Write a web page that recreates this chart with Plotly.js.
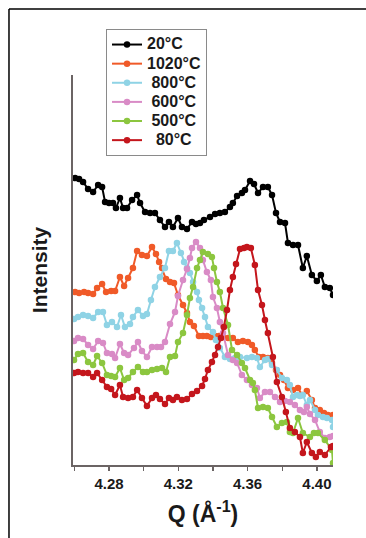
<!DOCTYPE html>
<html>
<head>
<meta charset="utf-8">
<script src="https://cdn.plot.ly/plotly-3.0.1.min.js"></script>
<style>
  html, body { margin: 0; padding: 0; background: #fff; }
  #chart { width: 366px; height: 538px; }
</style>
</head>
<body>
<div id="chart"></div>
<script>
// Tick labels on the Q axis (labelled major ticks, unlabelled minor ticks)
const tickValues = [4.28, 4.32, 4.36, 4.40];
const tickLabels = ['4.28', '4.32', '4.36', '4.40'];
const minorTickValues = [4.26, 4.30, 4.34, 4.38];

// Series names
const seriesNames = ['20°C', '1020°C', '\u00a0800°C', '\u00a0600°C', '\u00a0500°C', '\u00a0\u00a080°C'];

// 20°C
const q20 = [4.2604,4.2627,4.2650,4.2679,4.2708,4.2737,4.2760,4.2777,4.2800,4.2823,4.2840,4.2863,4.2881,4.2904,4.2933,4.2962,4.2979,4.3008,4.3037,4.3065,4.3094,4.3123,4.3146,4.3169,4.3198,4.3221,4.3250,4.3279,4.3302,4.3325,4.3348,4.3383,4.3412,4.3440,4.3469,4.3498,4.3515,4.3539,4.3567,4.3585,4.3614,4.3637,4.3660,4.3689,4.3717,4.3741,4.3764,4.3787,4.3816,4.3833,4.3862,4.3891,4.3919,4.3942,4.3971,4.4000,4.4023,4.4046,4.4075,4.4093];
const i20 = [287,286,283,276,273,280,278,263,262,262,257,267,257,257,265,270,262,253,252,252,245,238,243,238,247,238,236,243,241,242,245,248,251,252,253,258,262,269,272,275,284,281,272,278,278,270,252,243,242,222,220,220,197,209,190,184,190,178,177,170];

// 1020°C
const q1020 = [4.2604,4.2627,4.2656,4.2679,4.2708,4.2731,4.2760,4.2783,4.2812,4.2835,4.2863,4.2887,4.2910,4.2938,4.2962,4.2990,4.3019,4.3048,4.3071,4.3089,4.3106,4.3129,4.3152,4.3175,4.3198,4.3227,4.3250,4.3267,4.3290,4.3319,4.3342,4.3365,4.3388,4.3412,4.3435,4.3458,4.3487,4.3515,4.3544,4.3573,4.3602,4.3625,4.3642,4.3665,4.3689,4.3717,4.3741,4.3764,4.3787,4.3810,4.3833,4.3862,4.3891,4.3914,4.3942,4.3971,4.3989,4.4017,4.4041,4.4064,4.4093];
const i1020 = [173,172,173,172,171,177,181,173,174,174,188,179,187,197,214,210,209,218,211,203,197,186,183,182,170,160,152,143,139,129,129,129,128,129,129,128,127,127,123,124,123,120,115,108,108,107,102,95,90,85,77,75,77,70,74,65,57,55,52,50,50];

// 800°C
const q800 = [4.2598,4.2621,4.2650,4.2679,4.2708,4.2737,4.2765,4.2788,4.2817,4.2846,4.2869,4.2892,4.2921,4.2938,4.2967,4.2996,4.3019,4.3042,4.3065,4.3094,4.3123,4.3146,4.3169,4.3192,4.3215,4.3233,4.3250,4.3267,4.3285,4.3308,4.3319,4.3337,4.3354,4.3371,4.3400,4.3417,4.3440,4.3469,4.3498,4.3527,4.3556,4.3596,4.3625,4.3654,4.3671,4.3700,4.3717,4.3741,4.3769,4.3798,4.3827,4.3844,4.3862,4.3885,4.3902,4.3919,4.3942,4.3960,4.3989,4.4006,4.4035,4.4058,4.4087,4.4093];
const i800 = [146,148,150,149,147,153,153,140,143,138,150,138,141,148,155,149,151,165,178,188,197,214,214,222,212,203,197,192,183,173,165,157,148,138,133,125,117,108,106,107,108,107,108,107,98,105,106,100,95,87,85,80,68,70,69,70,60,65,55,50,48,47,45,38];

// 600°C
const q600 = [4.2598,4.2621,4.2650,4.2679,4.2708,4.2737,4.2765,4.2788,4.2817,4.2835,4.2863,4.2887,4.2910,4.2944,4.2967,4.2990,4.3019,4.3048,4.3077,4.3100,4.3123,4.3152,4.3181,4.3198,4.3227,4.3250,4.3267,4.3279,4.3302,4.3325,4.3342,4.3365,4.3388,4.3400,4.3423,4.3440,4.3458,4.3487,4.3515,4.3539,4.3567,4.3596,4.3625,4.3654,4.3671,4.3700,4.3729,4.3758,4.3787,4.3816,4.3844,4.3873,4.3902,4.3925,4.3942,4.3960,4.3989,4.4017,4.4046,4.4075,4.4093];
const i600 = [124,127,126,120,116,124,122,112,111,107,121,112,110,117,123,114,108,118,118,118,123,141,153,169,185,196,207,217,223,217,205,193,185,168,157,143,132,110,105,102,90,85,80,77,67,73,73,68,63,64,63,60,55,53,58,51,45,33,27,28,29];

// 500°C
const q500 = [4.2598,4.2621,4.2650,4.2679,4.2708,4.2731,4.2760,4.2788,4.2812,4.2835,4.2863,4.2887,4.2910,4.2938,4.2967,4.2996,4.3019,4.3048,4.3077,4.3106,4.3129,4.3152,4.3181,4.3198,4.3227,4.3250,4.3267,4.3285,4.3308,4.3325,4.3342,4.3371,4.3394,4.3406,4.3423,4.3440,4.3458,4.3487,4.3510,4.3539,4.3567,4.3585,4.3614,4.3631,4.3642,4.3660,4.3689,4.3717,4.3741,4.3769,4.3798,4.3827,4.3844,4.3862,4.3891,4.3919,4.3960,4.3983,4.4006,4.4046,4.4087,4.4093];
const i500 = [105,111,112,103,100,109,102,90,89,88,97,85,87,93,98,93,93,95,96,97,93,108,109,123,132,150,167,178,197,205,213,211,208,197,183,173,157,140,115,110,102,97,85,82,75,57,58,57,48,38,42,43,33,32,47,32,28,32,32,25,15,2];

// 80°C
const q80 = [4.2598,4.2621,4.2650,4.2679,4.2708,4.2731,4.2760,4.2788,4.2812,4.2835,4.2863,4.2881,4.2910,4.2938,4.2962,4.2990,4.3019,4.3048,4.3071,4.3094,4.3123,4.3146,4.3169,4.3192,4.3221,4.3250,4.3279,4.3308,4.3337,4.3354,4.3371,4.3394,4.3412,4.3429,4.3446,4.3463,4.3481,4.3498,4.3515,4.3533,4.3556,4.3579,4.3596,4.3619,4.3642,4.3660,4.3683,4.3700,4.3717,4.3746,4.3769,4.3798,4.3821,4.3844,4.3873,4.3902,4.3919,4.3942,4.3971,4.3994,4.4017,4.4046,4.4081,4.4093];
const i80 = [92,93,92,92,88,92,85,78,76,70,80,68,67,68,75,67,59,67,70,66,61,67,65,68,65,66,71,74,79,86,95,103,110,118,127,138,155,175,188,201,216,217,218,217,200,175,160,145,132,108,83,68,53,37,33,28,12,23,12,8,13,10,18,19];

const colors = ['#000000', '#f05a28', '#8fd3e5', '#d98bc6', '#8cc63f', '#c4161c'];
const qs = [q20, q1020, q800, q600, q500, q80];
const is = [i20, i1020, i800, i600, i500, i80];

const traces = qs.map((q, k) => ({
  type: 'scatter',
  mode: 'lines+markers',
  name: '<span style="font-size:16px">' + seriesNames[k] + '</span>',
  x: q,
  y: is[k],
  line: { color: colors[k], width: 2 },
  marker: { color: colors[k], size: 6.5 }
}));

const axisColor = '#6b6464';

const layout = {
  width: 366,
  height: 538,
  margin: { l: 73, r: 33, t: 75, b: 73 },
  paper_bgcolor: '#ffffff',
  plot_bgcolor: '#ffffff',
  font: { family: 'Liberation Sans, Arial, sans-serif', color: '#1a1a1a', size: 15, weight: 'bold' },
  showlegend: true,
  legend: {
    x: 0.127, y: 1.118, xanchor: 'left', yanchor: 'top',
    bgcolor: '#ffffff', bordercolor: '#8a8a8a', borderwidth: 1,
    font: { size: 12.4, weight: 'bold', color: '#1a1a1a' },
    tracegroupgap: 0
  },
  xaxis: {
    range: [4.2592, 4.4093],
    showgrid: false, zeroline: false,
    showline: true, linecolor: axisColor, linewidth: 2,
    ticks: 'outside', ticklen: 4, tickwidth: 1.5, tickcolor: axisColor,
    tickvals: tickValues, ticktext: tickLabels,
    minor: { tickvals: minorTickValues, ticks: 'outside', ticklen: 4, tickwidth: 1.5, tickcolor: axisColor, showgrid: false },
    tickfont: { size: 15, weight: 'bold', color: '#1a1a1a' },
    title: { text: 'Q (Å<sup>-1</sup>)', font: { size: 23, weight: 'bold', color: '#1a1a1a' }, standoff: 15 }
  },
  yaxis: {
    range: [0, 390],
    showgrid: false, zeroline: false,
    showline: true, linecolor: axisColor, linewidth: 2,
    ticks: '', showticklabels: false,
    title: { text: 'Intensity', font: { size: 21, weight: 'bold', color: '#1a1a1a' }, standoff: 18 }
  },
  shapes: [
    { type: 'line', xref: 'paper', yref: 'paper', x0: -0.2462, x1: 1.13, y0: 1.1692, y1: 1.1692, line: { color: '#000', width: 1.5 } },
    { type: 'line', xref: 'paper', yref: 'paper', x0: -0.2462, x1: -0.2462, y0: 1.1692, y1: -0.19, line: { color: '#000', width: 1.5 } }
  ]
};

Plotly.newPlot('chart', traces, layout, { displayModeBar: false, staticPlot: true });
</script>
</body>
</html>
